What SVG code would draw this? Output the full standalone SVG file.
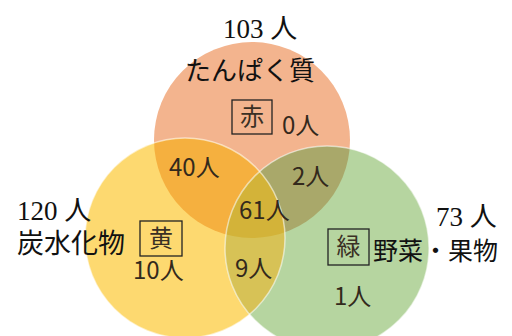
<svg xmlns="http://www.w3.org/2000/svg" width="512" height="336" viewBox="0 0 512 336">
<style>
.ser{font-family:"Liberation Serif","Noto Sans CJK JP",serif;fill:#111;}
.num{font-family:"Noto Sans CJK JP","Noto Sans",sans-serif;font-size:24px;fill:#33291c;}
.box{fill:none;stroke:#222;stroke-width:1.3;}
.bl{font-family:"Noto Sans CJK JP",sans-serif;font-size:24px;fill:#3a3024;text-anchor:middle;}
.edge{fill:none;stroke:#fff;stroke-opacity:0.55;stroke-width:1.5;}
</style>
<defs>
<clipPath id="cr"><circle cx="252" cy="140" r="98"/></clipPath>
<clipPath id="cy"><circle cx="185" cy="238" r="100"/></clipPath>
</defs>
<rect width="512" height="336" fill="#fff"/>
<g id="red"><circle cx="252" cy="140" r="98" fill="#F3B48E"/></g>
<g id="yellow"><circle cx="185" cy="238" r="100" fill="#FDD970"/></g>
<g id="green"><circle cx="327" cy="248" r="102" fill="#B6D5A0"/></g>
<g id="overlaps">
<circle cx="185" cy="238" r="100" fill="#F5B03F" clip-path="url(#cr)"/>
<circle cx="327" cy="248" r="102" fill="#A9A86A" clip-path="url(#cr)"/>
<circle cx="327" cy="248" r="102" fill="#D7C256" clip-path="url(#cy)"/>
<g clip-path="url(#cr)"><circle cx="327" cy="248" r="102" fill="#D3B339" clip-path="url(#cy)"/></g>
<circle class="edge" cx="185" cy="238" r="100"/>
<circle class="edge" cx="327" cy="248" r="102"/>
</g>
<g id="labels">
<text class="ser" x="223" y="38" font-size="27">103 人</text>
<text class="ser" x="185" y="80" font-size="26">たんぱく質</text>
<rect class="box" x="232" y="100" width="40" height="34"/>
<text class="bl" x="252" y="125">赤</text>
<text class="num" x="282" y="134">0人</text>
<text class="num" x="169" y="176">40人</text>
<text class="num" x="292" y="185">2人</text>
<text class="num" x="239" y="219">61人</text>
<text class="num" x="235" y="277">9人</text>
<text class="num" x="133" y="279">10人</text>
<text class="num" x="334" y="305">1人</text>
<text class="ser" x="17" y="220" font-size="27">120 人</text>
<text class="ser" x="17" y="253" font-size="27">炭水化物</text>
<rect class="box" x="140" y="221" width="42" height="35"/>
<text class="bl" x="161" y="247">黄</text>
<text class="ser" x="436" y="226" font-size="27">73 人</text>
<rect class="box" x="328" y="229" width="41" height="36"/>
<text class="bl" x="348.5" y="255">緑</text>
<text class="ser" x="373" y="260" font-size="25">野菜・果物</text>
</g>
</svg>
